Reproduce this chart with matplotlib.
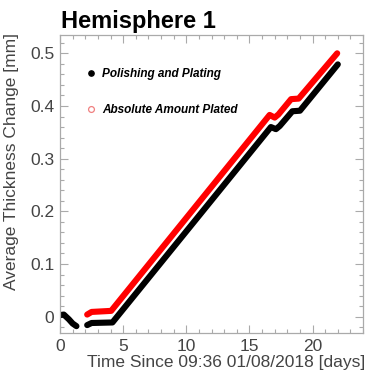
import matplotlib
matplotlib.use("Agg")
import matplotlib.pyplot as plt
from matplotlib.lines import Line2D
from matplotlib.ticker import MultipleLocator

# Polishing and plating, first (pre-plating) period
black_t1 = [0.0, 0.3, 0.7, 1.0, 1.3]
black_v1 = [0.003, 0.004, -0.005, -0.013, -0.018]

# Polishing and plating, main run
black_t2 = [2.15, 2.5, 4.15, 16.7, 17.1, 17.4, 18.4, 19.0, 22.0]
black_v2 = [-0.016, -0.012, -0.011, 0.360, 0.356, 0.362, 0.390, 0.391, 0.479]

# Absolute amount plated
red_t = [2.15, 2.5, 4.05, 16.6, 17.0, 17.3, 18.3, 18.9, 21.95]
red_v = [0.004, 0.009, 0.011, 0.383, 0.378, 0.384, 0.413, 0.414, 0.500]

x_ticks = [0, 5, 10, 15, 20]
y_ticks = [0.0, 0.1, 0.2, 0.3, 0.4, 0.5]
y_tick_labels = ["0", "0.1", "0.2", "0.3", "0.4", "0.5"]

plt.rcParams["font.family"] = ["Liberation Sans", "DejaVu Sans"]

fig = plt.figure(figsize=(3.66, 3.75), dpi=100)
ax = fig.add_axes([0.164, 0.112, 0.828, 0.795])

lw = 4.4
ax.plot(black_t1, black_v1, color="black", lw=lw, solid_capstyle="round", solid_joinstyle="round")
ax.plot(black_t2, black_v2, color="black", lw=lw, solid_capstyle="round", solid_joinstyle="round")
ax.plot(red_t, red_v, color="#ff0000", lw=lw, solid_capstyle="round", solid_joinstyle="round")

ax.set_xlim(0, 24)
ax.set_ylim(-0.031, 0.535)
ax.set_xticks(x_ticks)
ax.set_yticks(y_ticks)
ax.set_yticklabels(y_tick_labels)
ax.xaxis.set_minor_locator(MultipleLocator(1))
ax.yaxis.set_minor_locator(MultipleLocator(0.02))
ax.tick_params(which="both", direction="in", top=True, right=True, colors="#aaaaaa",
               labelcolor="#444444", labelsize=12.5, width=0.8)
ax.tick_params(which="major", length=6, pad=4)
ax.tick_params(which="minor", length=3)
for s in ax.spines.values():
    s.set_color("#aaaaaa")
    s.set_linewidth(0.9)

ax.set_xlabel("Time Since 09:36 01/08/2018 [days]", fontsize=12.5, color="#444444",
              ha="right")
ax.xaxis.set_label_coords(1.008, -0.075)
ax.set_ylabel("Average Thickness Change [mm]", fontsize=12.5, color="#444444")
ax.yaxis.set_label_coords(-0.135, 0.575)

handles = [
    Line2D([], [], ls="none", marker="o", markersize=3.8, color="black"),
    Line2D([], [], ls="none", marker="o", markersize=4.2, markerfacecolor="none",
           markeredgecolor="#f08080", markeredgewidth=0.9),
]
ax.legend(handles, ["Polishing and Plating", "Absolute Amount Plated"],
          loc="upper left", bbox_to_anchor=(0.07, 0.905), frameon=False,
          prop={"weight": "bold", "style": "italic", "size": 8.5},
          labelspacing=2.05, handlelength=0.8, handletextpad=0.55, borderaxespad=0)

fig.text(0.166, 0.925, "Hemisphere 1", fontsize=17, fontweight="bold", color="black",
         ha="left", va="baseline")

fig.savefig("out.png", dpi=100)
